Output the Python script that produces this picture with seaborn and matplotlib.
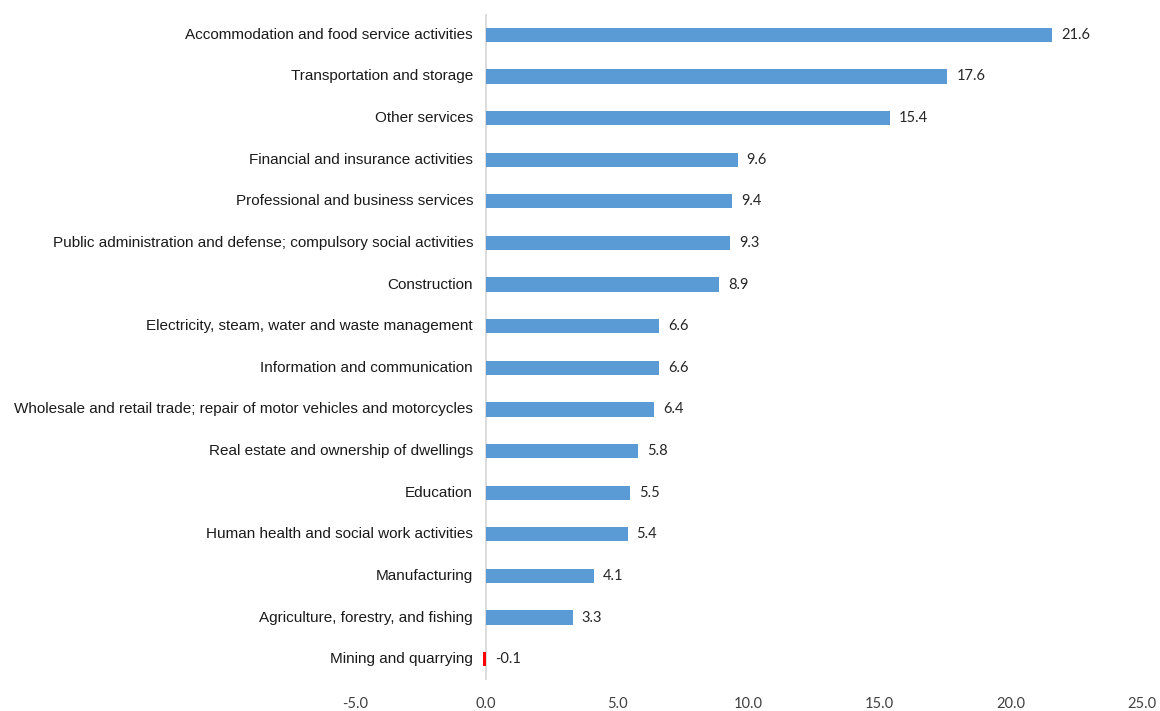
import matplotlib
matplotlib.use("Agg")
import matplotlib.pyplot as plt
import seaborn as sns
import pandas as pd
from matplotlib.transforms import offset_copy

categories = [
    "Accommodation and food service activities",
    "Transportation and storage",
    "Other services",
    "Financial and insurance activities",
    "Professional and business services",
    "Public administration and defense; compulsory social activities",
    "Construction",
    "Electricity, steam, water and waste management",
    "Information and communication",
    "Wholesale and retail trade; repair of motor vehicles and motorcycles",
    "Real estate and ownership of dwellings",
    "Education",
    "Human health and social work activities",
    "Manufacturing",
    "Agriculture, forestry, and fishing",
    "Mining and quarrying",
]
values = [21.6, 17.6, 15.4, 9.6, 9.4, 9.3, 8.9, 6.6, 6.6, 6.4, 5.8, 5.5, 5.4, 4.1, 3.3, -0.1]
xticks = [-5.0, 0.0, 5.0, 10.0, 15.0, 20.0, 25.0]

sns.set_theme(style="white")
plt.rcParams['font.family'] = ['Liberation Sans', 'DejaVu Sans']

df = pd.DataFrame({"cat": categories, "val": values})
colors = {c: ("#FF0000" if v < 0 else "#5B9BD5") for c, v in zip(categories, values)}

fig = plt.figure(figsize=(11.6, 7.11), dpi=100)
ax = fig.add_axes([0.306, 0.0436, 0.678, 0.9367])
sns.barplot(data=df, x="val", y="cat", hue="cat", palette=colors, legend=False,
            width=0.34, orient="h", ax=ax, saturation=1, linewidth=0)

ax.set_xlim(-5, 25)
ax.set_ylim(len(categories) - 0.5, -0.5)
ax.axvline(0, color="#D9D9D9", lw=1.3, zorder=0)
for s in ax.spines.values():
    s.set_visible(False)
ax.set_xlabel("")
ax.set_ylabel("")
ax.set_yticks([])
ax.set_xticks(xticks)
ax.set_xticklabels([f"{t:.1f}" for t in xticks], family=['Lato', 'DejaVu Sans'],
                   fontsize=10.5, color="#404040")
ax.tick_params(axis="x", length=0, pad=12)

lab_tr = offset_copy(ax.transData, fig=fig, x=-13, y=0, units="dots")
val_tr = offset_copy(ax.transData, fig=fig, x=9, y=0, units="dots")
for i, (c, v) in enumerate(zip(categories, values)):
    ax.text(0, i, c, ha="right", va="center", fontsize=11, color="#1a1a1a",
            transform=lab_tr, clip_on=False)
    ax.text(max(v, 0), i, f"{v:.1f}", ha="left", va="center", fontsize=10.5,
            family=['Lato', 'DejaVu Sans'], color="#262626", transform=val_tr)

fig.savefig("out.png", dpi=100, facecolor="white")
